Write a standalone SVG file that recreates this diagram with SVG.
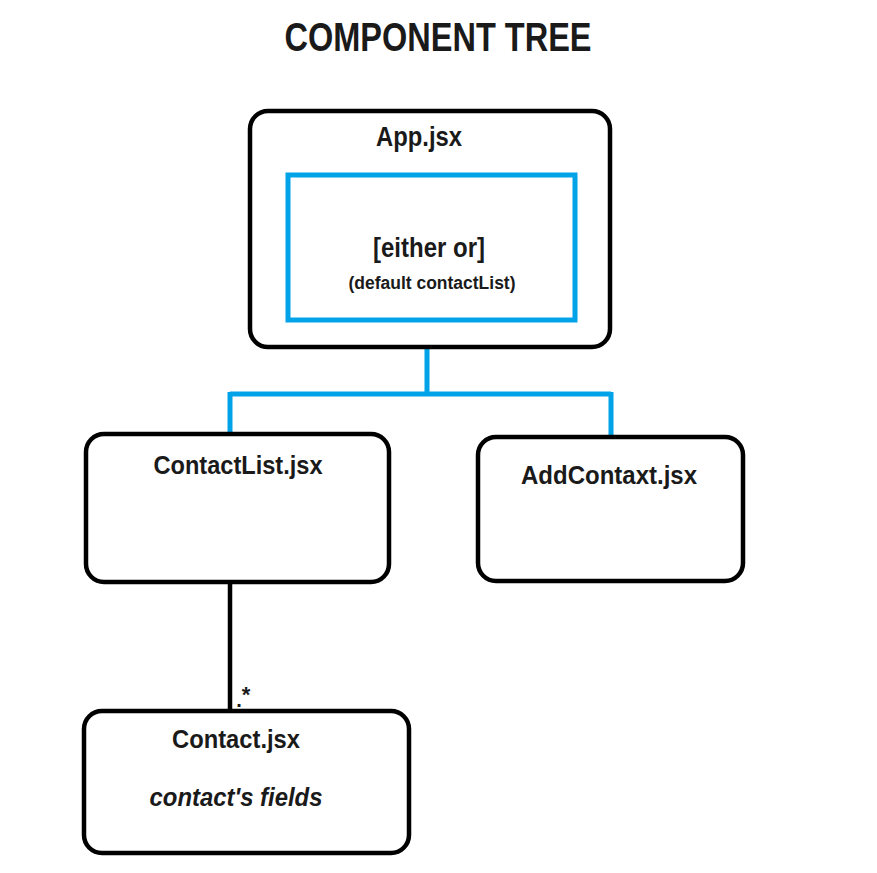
<svg xmlns="http://www.w3.org/2000/svg" width="877" height="873" viewBox="0 0 877 873">
<style>
.box{fill:#fff;stroke:#000;stroke-width:4.5}
.t{font-family:"Liberation Sans",Arial,sans-serif;font-weight:bold;fill:#1a1a1a;text-anchor:middle}
.blue{fill:none;stroke:#00a2e8;stroke-width:5}
</style>
<rect width="877" height="873" fill="#fff"/>
<text class="t" x="438" y="51" font-size="40" textLength="307" lengthAdjust="spacingAndGlyphs">COMPONENT TREE</text>
<g id="connectors">
<path class="blue" d="M427 320 V394 M230 394 H611 M230 392 V434 M611 392 V438"/>
<path d="M230 582 V711" stroke="#000" stroke-width="4.5" fill="none"/>
<text class="t" x="239" y="707" font-size="20">.</text>
<text class="t" x="246" y="702" font-size="22">*</text>
</g>
<g id="app">
<rect class="box" x="250" y="111" width="360" height="236" rx="18"/>
<text class="t" x="419" y="146" font-size="27" textLength="86" lengthAdjust="spacingAndGlyphs">App.jsx</text>
<g id="either-or">
<rect class="blue" x="288" y="175" width="287" height="145"/>
<text class="t" x="429" y="257" font-size="27" textLength="112" lengthAdjust="spacingAndGlyphs">[either or]</text>
<text class="t" x="432" y="289" font-size="18" textLength="167" lengthAdjust="spacingAndGlyphs">(default contactList)</text>
</g>
</g>
<g id="contactlist">
<rect class="box" x="86" y="434" width="303" height="148" rx="18"/>
<text class="t" x="238" y="474" font-size="26" textLength="169" lengthAdjust="spacingAndGlyphs">ContactList.jsx</text>
</g>
<g id="addcontaxt">
<rect class="box" x="478" y="437" width="265" height="144" rx="18"/>
<text class="t" x="609" y="484" font-size="26" textLength="176" lengthAdjust="spacingAndGlyphs">AddContaxt.jsx</text>
</g>
<g id="contact">
<rect class="box" x="84" y="711" width="325" height="142" rx="18"/>
<text class="t" x="236" y="748" font-size="26" textLength="128" lengthAdjust="spacingAndGlyphs">Contact.jsx</text>
<text class="t" x="236" y="806" font-size="26" font-style="italic" textLength="173" lengthAdjust="spacingAndGlyphs">contact's fields</text>
</g>
</svg>
